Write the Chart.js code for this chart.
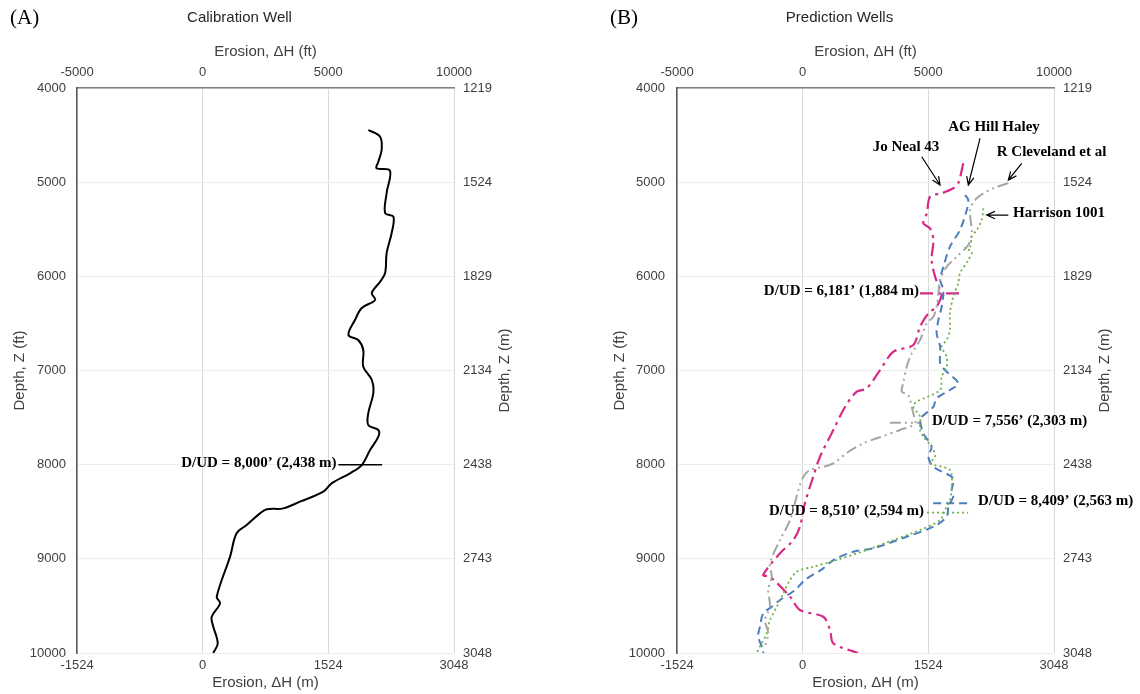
<!DOCTYPE html>
<html>
<head>
<meta charset="utf-8">
<title>Erosion vs depth</title>
<script src="https://cdn.jsdelivr.net/npm/chart.js@4.4.0/dist/chart.umd.min.js"></script>
<style>
  html, body { margin: 0; padding: 0; background: #fff; }
  #wrap { position: relative; width: 1140px; height: 694px; }
  .panel { position: absolute; top: 0; width: 570px; height: 694px; }
  #panelA { left: 0; }
  #panelB { left: 570px; }
</style>
</head>
<body>
<div id="wrap">
  <div class="panel" id="panelA"><canvas id="chartA" width="570" height="694"></canvas></div>
  <div class="panel" id="panelB"><canvas id="chartB" width="570" height="694"></canvas></div>
</div>
<script>
// tick labels
const erosionFtTicks = [-5000, 0, 5000, 10000];
const erosionMTicks = [-1524, 0, 1524, 3048];
const depthFtTicks = [4000, 5000, 6000, 7000, 8000, 9000, 10000];
const depthMTicks = [1219, 1524, 1829, 2134, 2438, 2743, 3048];

// calibration well (depth ft, erosion ft)
const calDepth = [4446, 4517, 4658, 4783, 4853, 4878, 5115, 5328, 5367, 5540, 5752, 5965, 6057, 6177, 6251,
  6336, 6464, 6623, 6676, 6782, 6960, 7101, 7239, 7452, 7579, 7632, 7703, 7844, 8004, 8092, 8198, 8287,
  8393, 8464, 8474, 8517, 8641, 8729, 8977, 9402, 9473, 9615, 9700, 9897, 10000];
const calErosion = [6590, 7060, 7120, 6990, 6920, 7450, 7320, 7260, 7590, 7520, 7320, 7260, 7060, 6730, 6860,
  6330, 6060, 5800, 6190, 6390, 6390, 6730, 6790, 6590, 6590, 6990, 6990, 6660, 6330, 5860, 5130, 4800,
  3870, 3210, 2550, 2280, 1750, 1350, 1090, 560, 690, 360, 400, 600, 420];

// prediction wells
const joNealDepth = [4800, 5012, 5065, 5118, 5154, 5331, 5437, 5490, 5614, 5827, 6004, 6145, 6198, 6322, 6393,
  6535, 6729, 6800, 6995, 7189, 7225, 7385, 7632, 7916, 8128, 8410, 8659, 8800, 8941, 9172, 9190, 9402,
  9544, 9615, 9756, 9897, 10000];
const joNealErosion = [6390, 6190, 5990, 5530, 5070, 4940, 4800, 5070, 5200, 5130, 5270, 5470, 5530, 5330, 5000,
  4670, 4400, 3610, 3080, 2550, 2150, 1690, 1220, 690, 420, 90, -110, -370, -900, -1570, -1300, -500,
  -110, 820, 1090, 1220, 2200];

const agHillDepth = [5136, 5189, 5296, 5508, 5685, 5898, 6039, 6145, 6323, 6464, 6605, 6747, 6924, 6995, 7136,
  7207, 7295, 7385, 7491, 7526, 7667, 7809, 7916, 8022, 8145, 8269, 8340, 8447, 8553, 8659, 8765, 8888,
  8924, 9013, 9101, 9225, 9331, 9437, 9509, 9579, 9721, 9827, 9968, 10000];
const agHillErosion = [6460, 6590, 6530, 6260, 5860, 5600, 5470, 5600, 5530, 5400, 5330, 5470, 5470, 5660, 6190,
  5860, 5330, 5200, 4740, 4670, 4800, 5130, 5000, 5200, 5990, 5930, 5990, 5800, 5730, 5200, 4140, 2810,
  2020, 1220, 820, 90, -300, -900, -1230, -1570, -1700, -1770, -1570, -1570];

const clevelandDepth = [5012, 5065, 5118, 5189, 5296, 5543, 5667, 5792, 5898, 6039, 6180, 6323, 6429, 6499,
  6676, 6818, 6960, 7136, 7225, 7260, 7455, 7561, 7632, 7720, 7773, 7863, 7986, 8022, 8057, 8128, 8269,
  8588, 8800, 9048, 9190, 9331, 9509, 9650, 9791, 9933];
const clevelandErosion = [8180, 7590, 7190, 6860, 6660, 6730, 6590, 6130, 5730, 5470, 5400, 5330, 5200, 4940,
  4670, 4340, 4140, 4000, 3940, 4200, 4400, 4470, 3870, 2950, 2410, 1820, 1220, 820, 290, 30, -170,
  -500, -900, -1300, -1230, -1370, -1300, -1500, -1370, -1500];

const harrisonDepth = [5278, 5402, 5508, 5579, 5685, 5702, 5738, 5827, 5968, 6074, 6216, 6393, 6570, 6676, 6747,
  6853, 6960, 7066, 7207, 7331, 7385, 7491, 7632, 7703, 7809, 7916, 7986, 8057, 8234, 8375, 8482, 8588,
  8694, 8800, 8906, 9013, 9084, 9137, 9225, 9366, 9509, 9650, 9791, 9933, 10000];
const harrisonErosion = [7190, 7120, 6930, 6730, 6660, 6460, 6730, 6590, 6260, 6190, 5990, 5860, 5860, 5730, 5530,
  5730, 5730, 5530, 5470, 4540, 4400, 4670, 4670, 4800, 5130, 5270, 5070, 5860, 5930, 5860, 5660, 5470,
  4670, 3610, 2550, 1350, 420, -240, -500, -770, -1030, -1300, -1430, -1700, -1830];

// decoupled/uplifted depths (ft) and the erosion span of each marker line
const calMarkerDepth = 8000, calMarkerSpan = [5400, 7140];
const joNealMarkerDepth = 6181, joNealMarkerSpan = [4670, 6340];
const clevelandMarkerDepth = 7556, clevelandMarkerSpan = [3470, 4670];
const agHillMarkerDepth = 8409, agHillMarkerSpan = [5190, 6580];
const harrisonMarkerDepth = 8510, harrisonMarkerSpan = [4950, 6580];

Chart.defaults.font.family = 'Arial, "Liberation Sans", sans-serif';
Chart.defaults.color = '#404040';

const serifBold = 'bold 15px "Times New Roman", "Liberation Serif", serif';
const pink = '#d62a86', blue = '#4a7ebf', grey = '#a6a6a6', green = '#6fb044';

const points = (xs, ys) => xs.map((x, i) => ({ x: x, y: ys[i] }));
const setTicks = values => scale => { scale.ticks = values.map(v => ({ value: v })); };
const ddLabel = d => 'D/UD = ' + d.toLocaleString('en-US') + '\u2019 (' +
  Math.round(d * 0.3048).toLocaleString('en-US') + ' m)';

function line(data, color, width, dash, tension) {
  return {
    data: data, borderColor: color, borderWidth: width, borderDash: dash || [],
    tension: tension, showLine: true, pointRadius: 0, fill: false
  };
}

function scalesFor(leftWidth, leftTitlePad, leftTickPad, rightWidth) {
  const tickFont = { size: 13 };
  return {
    x: {
      type: 'linear', position: 'top', min: -5000, max: 10000,
      afterBuildTicks: setTicks(erosionFtTicks),
      afterFit: s => { s.height = 88; },
      ticks: { padding: 8, font: tickFont, maxRotation: 0, autoSkip: false, callback: v => String(v) },
      grid: { color: '#d9d9d9', drawTicks: false },
      border: { color: '#7f7f7f', width: 1.5 },
      title: { display: true, text: 'Erosion, \u0394H (ft)', font: { size: 15, lineHeight: 1.2 }, padding: { top: 43, bottom: 0 } }
    },
    x2: {
      type: 'linear', position: 'bottom', min: -1524, max: 3048,
      afterBuildTicks: setTicks(erosionMTicks),
      afterFit: s => { s.height = 41; },
      ticks: { padding: 5, font: tickFont, maxRotation: 0, autoSkip: false, callback: v => String(v) },
      grid: { display: false, drawTicks: false },
      border: { display: false },
      title: { display: true, text: 'Erosion, \u0394H (m)', font: { size: 15, lineHeight: 1.2 }, padding: { top: 0, bottom: 2 } }
    },
    y: {
      type: 'linear', position: 'left', reverse: true, min: 4000, max: 10000,
      afterBuildTicks: setTicks(depthFtTicks),
      afterFit: s => { s.width = leftWidth; },
      ticks: { padding: leftTickPad, font: tickFont, autoSkip: false, callback: v => String(v) },
      grid: { color: '#ececec', drawTicks: false },
      border: { color: '#595959', width: 1.5 },
      title: { display: true, text: 'Depth, Z (ft)', font: { size: 15, lineHeight: 1.2 }, padding: { top: leftTitlePad, bottom: 0 } }
    },
    y2: {
      type: 'linear', position: 'right', reverse: true, min: 1219, max: 3048,
      afterBuildTicks: setTicks(depthMTicks),
      afterFit: s => { s.width = rightWidth; },
      ticks: { padding: 9, font: tickFont, autoSkip: false, callback: v => String(v) },
      grid: { display: false, drawTicks: false },
      border: { display: false }
    }
  };
}

function arrow(ctx, x0, y0, x1, y1) {
  const a = Math.atan2(y1 - y0, x1 - x0), len = 9, spread = 0.42;
  ctx.beginPath();
  ctx.moveTo(x0, y0);
  ctx.lineTo(x1, y1);
  ctx.moveTo(x1 - len * Math.cos(a - spread), y1 - len * Math.sin(a - spread));
  ctx.lineTo(x1, y1);
  ctx.lineTo(x1 - len * Math.cos(a + spread), y1 - len * Math.sin(a + spread));
  ctx.stroke();
}

// panel letter, title, right axis title, D/UD labels and well callouts
function overlay(letter, title, markers, callouts) {
  return {
    id: 'overlay',
    afterDatasetsDraw(chart) {
      const { ctx, chartArea: area, scales: { x, y } } = chart;
      ctx.save();
      ctx.textBaseline = 'middle';
      ctx.fillStyle = '#000';
      ctx.textAlign = 'left';
      ctx.font = '21px "Times New Roman", "Liberation Serif", serif';
      ctx.fillText(letter, area.left - 67, 18);

      ctx.fillStyle = '#262626';
      ctx.textAlign = 'center';
      ctx.font = '15px Arial, "Liberation Sans", sans-serif';
      ctx.fillText(title, (area.left + area.right) / 2 - 26, 18);

      ctx.fillStyle = '#404040';
      ctx.save();
      ctx.translate(area.right + 51, (area.top + area.bottom) / 2);
      ctx.rotate(-Math.PI / 2);
      ctx.fillText('Depth, Z (m)', 0, 0);
      ctx.restore();

      ctx.fillStyle = '#000';
      ctx.font = serifBold;
      markers.forEach(m => {
        const py = y.getPixelForValue(m.depth) - 2;
        if (m.side === 'left') {
          ctx.textAlign = 'right';
          ctx.fillText(ddLabel(m.depth), x.getPixelForValue(m.span[0]) - m.gap, py);
        } else {
          ctx.textAlign = 'left';
          ctx.fillText(ddLabel(m.depth), x.getPixelForValue(m.span[1]) + m.gap, py);
        }
      });

      ctx.strokeStyle = '#000';
      ctx.lineWidth = 1.2;
      callouts.forEach(c => {
        ctx.textAlign = 'center';
        ctx.fillText(c.text, x.getPixelForValue(c.at[0]), y.getPixelForValue(c.at[1]));
        arrow(ctx, x.getPixelForValue(c.from[0]), y.getPixelForValue(c.from[1]),
          x.getPixelForValue(c.to[0]), y.getPixelForValue(c.to[1]));
      });
      ctx.restore();
    }
  };
}

const baseOptions = scales => ({
  responsive: false,
  animation: false,
  layout: { padding: 0 },
  scales: scales,
  plugins: { legend: { display: false }, tooltip: { enabled: false } }
});

new Chart(document.getElementById('chartA'), {
  type: 'scatter',
  data: {
    datasets: [
      line(points(calErosion, calDepth), '#000', 2, null, 0.35),
      line(points(calMarkerSpan, [calMarkerDepth, calMarkerDepth]), '#000', 1.5, null, 0)
    ]
  },
  options: baseOptions(scalesFor(77, 11, 11, 116)),
  plugins: [overlay('(A)', 'Calibration Well',
    [{ depth: calMarkerDepth, span: calMarkerSpan, side: 'left', gap: 2 }], [])]
});

const pinkDash = [13, 5, 3, 5], blueDash = [8, 5], greyDash = [11, 4, 2, 4, 2, 4], greenDash = [2, 3];

new Chart(document.getElementById('chartB'), {
  type: 'scatter',
  data: {
    datasets: [
      line(points(clevelandErosion, clevelandDepth), grey, 2, greyDash, 0.3),
      line(points(harrisonErosion, harrisonDepth), green, 1.8, greenDash, 0.3),
      line(points(agHillErosion, agHillDepth), blue, 2, blueDash, 0.3),
      line(points(joNealErosion, joNealDepth), pink, 2.2, pinkDash, 0.3),
      line(points(joNealMarkerSpan, [joNealMarkerDepth, joNealMarkerDepth]), pink, 2.2, pinkDash, 0),
      line(points(clevelandMarkerSpan, [clevelandMarkerDepth, clevelandMarkerDepth]), grey, 2, greyDash, 0),
      line(points(agHillMarkerSpan, [agHillMarkerDepth, agHillMarkerDepth]), blue, 2, blueDash, 0),
      line(points(harrisonMarkerSpan, [harrisonMarkerDepth, harrisonMarkerDepth]), green, 1.8, greenDash, 0)
    ]
  },
  options: baseOptions(scalesFor(107, 41, 12, 86)),
  plugins: [overlay('(B)', 'Prediction Wells',
    [
      { depth: joNealMarkerDepth, span: joNealMarkerSpan, side: 'left', gap: 1 },
      { depth: clevelandMarkerDepth, span: clevelandMarkerSpan, side: 'right', gap: 12 },
      { depth: agHillMarkerDepth, span: agHillMarkerSpan, side: 'right', gap: 10 },
      { depth: harrisonMarkerDepth, span: harrisonMarkerSpan, side: 'left', gap: 3 }
    ],
    [
      { text: 'Jo Neal 43', at: [4112, 4623], from: [4737, 4730], to: [5465, 5030] },
      { text: 'AG Hill Haley', at: [7613, 4411], from: [7056, 4534], to: [6591, 5030] },
      { text: 'R Cleveland et al', at: [9901, 4677], from: [8716, 4800], to: [8183, 4977] },
      { text: 'Harrison 1001', at: [10200, 5331], from: [8183, 5349], to: [7323, 5349] }
    ])]
});
</script>
</body>
</html>
